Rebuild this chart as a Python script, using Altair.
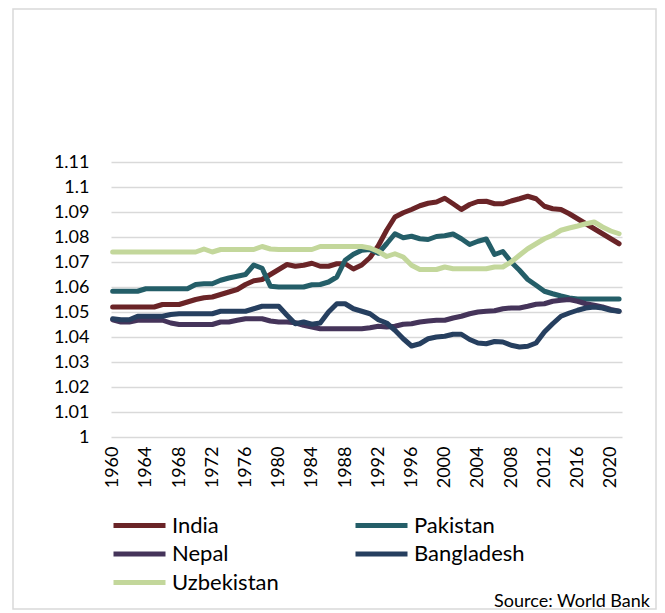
import altair as alt
import pandas as pd

years = list(range(1960, 2022))
tick_years = list(range(1960, 2021, 4))
y_ticks = [1.0, 1.01, 1.02, 1.03, 1.04, 1.05, 1.06, 1.07, 1.08, 1.09, 1.1, 1.11]

countries = ["India", "Pakistan", "Nepal", "Bangladesh", "Uzbekistan"]
colors = ["#6a2427", "#245e68", "#45345a", "#263f5f", "#c3d79b"]
# legend fills column by column: India, Nepal, Uzbekistan | Pakistan, Bangladesh
legend_order = ["India", "Nepal", "Uzbekistan", "Pakistan", "Bangladesh"]
legend_colors = [colors[countries.index(c)] for c in legend_order]

india = [1.052, 1.052, 1.052, 1.052, 1.052, 1.052, 1.053, 1.053, 1.053, 1.054,
         1.055, 1.0557, 1.056, 1.057, 1.058, 1.059, 1.061, 1.0625, 1.063, 1.065,
         1.067, 1.069, 1.0683, 1.0687, 1.0695, 1.0683, 1.0683, 1.0693, 1.0693, 1.0672,
         1.0688, 1.0718, 1.0765, 1.0827, 1.088, 1.0897, 1.091, 1.0925, 1.0935, 1.094,
         1.0955, 1.0933, 1.091, 1.093, 1.0942, 1.0943, 1.0933, 1.0933, 1.0944, 1.0953,
         1.0963, 1.0953, 1.0923, 1.0913, 1.091, 1.0893, 1.0873, 1.0853, 1.0833, 1.0813,
         1.0793, 1.0773]
pakistan = [1.0583, 1.0583, 1.0583, 1.0583, 1.0593, 1.0593, 1.0593, 1.0593, 1.0593, 1.0593,
            1.061, 1.0613, 1.0613, 1.0627, 1.0636, 1.0643, 1.065, 1.0688, 1.0675, 1.0603,
            1.06, 1.06, 1.06, 1.06, 1.0609, 1.061, 1.062, 1.064, 1.0707, 1.0731,
            1.0747, 1.075, 1.0735, 1.0773, 1.0813, 1.0797, 1.0803, 1.0793, 1.079, 1.0802,
            1.0805, 1.0812, 1.0793, 1.077, 1.0783, 1.0792, 1.073, 1.0742, 1.07, 1.0667,
            1.063, 1.0607, 1.0583, 1.0573, 1.0564, 1.0556, 1.0552, 1.0552, 1.0552, 1.0552,
            1.0552, 1.0552]
nepal = [1.0469, 1.046, 1.046, 1.0467, 1.0467, 1.0467, 1.0467, 1.0456, 1.045, 1.045,
         1.045, 1.045, 1.045, 1.046, 1.046, 1.0467, 1.0473, 1.0473, 1.0473, 1.0464,
         1.046, 1.046, 1.0457, 1.0447, 1.044, 1.0433, 1.0433, 1.0433, 1.0433, 1.0433,
         1.0433, 1.0437, 1.0443, 1.044, 1.0443, 1.0451, 1.0453, 1.046, 1.0464, 1.0467,
         1.0467, 1.0476, 1.0483, 1.0493, 1.05, 1.0503, 1.0505, 1.0513, 1.0516, 1.0516,
         1.0523, 1.0531, 1.0533, 1.0543, 1.0547, 1.055, 1.0543, 1.0533, 1.0527, 1.052,
         1.051, 1.0503]
bangladesh = [1.0473, 1.0469, 1.0469, 1.0483, 1.0483, 1.0483, 1.0483, 1.049, 1.0493, 1.0493,
              1.0493, 1.0493, 1.0493, 1.0503, 1.0503, 1.0503, 1.0503, 1.0513, 1.0523, 1.0523,
              1.0523, 1.0487, 1.0453, 1.046, 1.0451, 1.0456, 1.05, 1.0533, 1.0533, 1.0513,
              1.0503, 1.0493, 1.0469, 1.0456, 1.0427, 1.0393, 1.0364, 1.0373, 1.0393, 1.04,
              1.0403, 1.0411, 1.0411, 1.039, 1.0376, 1.0373, 1.0382, 1.038, 1.0367, 1.036,
              1.0363, 1.0376, 1.042, 1.0453, 1.0483, 1.0496, 1.0507, 1.0516, 1.052, 1.0516,
              1.0507, 1.0503]
uzbekistan = [1.074, 1.074, 1.074, 1.074, 1.074, 1.074, 1.074, 1.074, 1.074, 1.074,
              1.074, 1.0752, 1.074, 1.075, 1.075, 1.075, 1.075, 1.075, 1.0762, 1.0752,
              1.075, 1.075, 1.075, 1.075, 1.075, 1.0762, 1.0762, 1.0762, 1.0762, 1.0762,
              1.0762, 1.0756, 1.0742, 1.0722, 1.0733, 1.072, 1.0687, 1.067, 1.067, 1.067,
              1.068, 1.0673, 1.0673, 1.0673, 1.0673, 1.0673, 1.068, 1.068, 1.07, 1.0727,
              1.0753, 1.0773, 1.0793, 1.0807, 1.0827, 1.0836, 1.0844, 1.0853, 1.086, 1.084,
              1.0824, 1.0813]

series = [india, pakistan, nepal, bangladesh, uzbekistan]
rows = []
for c, vals in zip(countries, series):
    for yr, v in zip(years, vals):
        rows.append({"year": yr, "country": c, "value": v})
df = pd.DataFrame(rows)

FONT = "Lato"

lines = alt.Chart(df).mark_line(strokeWidth=5, strokeCap="round", strokeJoin="round").encode(
    x=alt.X("year:Q",
            scale=alt.Scale(domain=[1959.8, 2021.35], nice=False, zero=False),
            axis=alt.Axis(values=tick_years, format="d", labelAngle=270, grid=False,
                          domain=False, ticks=False, labelFontSize=18, labelPadding=9,
                          labelColor="#000000", labelFont=FONT, title=None,
                          labelOverlap=False)),
    y=alt.Y("value:Q",
            scale=alt.Scale(domain=[1.0, 1.11], nice=False, zero=False),
            axis=alt.Axis(values=y_ticks, format=".2~f", grid=True, gridColor="#d9d9d9",
                          gridWidth=1.5, domain=False, ticks=False, labelFontSize=18,
                          labelPadding=22, labelColor="#000000", labelFont=FONT,
                          title=None, labelOverlap=False)),
    color=alt.Color("country:N",
                    scale=alt.Scale(domain=legend_order, range=legend_colors),
                    legend=alt.Legend(orient="none", legendX=0, legendY=352, columns=2,
                                      title=None, symbolType="stroke", symbolSize=2704,
                                      symbolStrokeWidth=5, labelFontSize=22, labelFont=FONT,
                                      labelColor="#000000", columnPadding=74, rowPadding=5.5,
                                      clipHeight=23, labelOffset=4, padding=0)),
    order=alt.Order("year:Q"),
)

border = alt.Chart(alt.Data(values=[{}])).mark_rect(
    filled=False, stroke="#d9d9d9", strokeWidth=1.5
).encode(
    x=alt.value(-98), x2=alt.value(545), y=alt.value(-153), y2=alt.value(447)
)

source = alt.Chart(alt.Data(values=[{"t": "Source: World Bank"}])).mark_text(
    align="right", baseline="alphabetic", fontSize=18, font=FONT, color="#000000"
).encode(
    x=alt.value(539), y=alt.value(445), text="t:N"
)

chart = alt.layer(border, lines, source).properties(
    width=511, height=275,
    padding={"left": 103, "top": 154, "right": 35, "bottom": 173},
    autosize=alt.AutoSizeParams(type="none"),
).configure_view(stroke=None)

chart.save("out.html", embed_options={"renderer": "svg", "actions": False})
